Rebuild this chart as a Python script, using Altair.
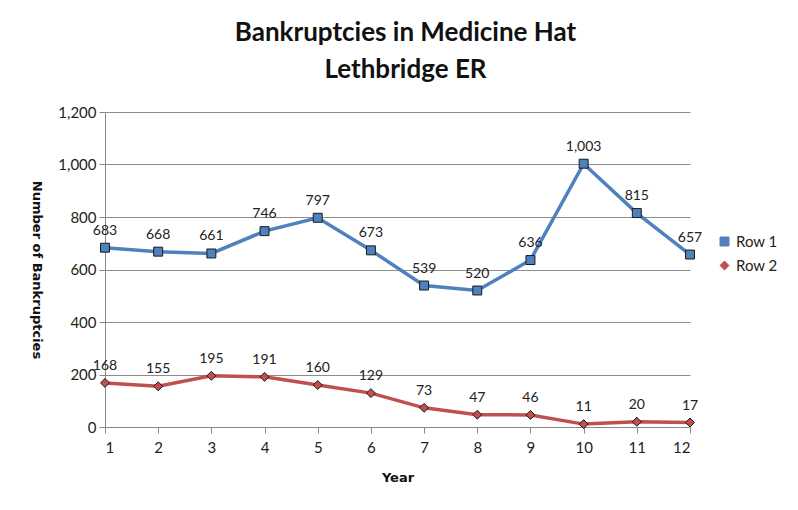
import altair as alt
import pandas as pd

years = list(range(1, 13))
row1 = [683, 668, 661, 746, 797, 673, 539, 520, 636, 1003, 815, 657]
row2 = [168, 155, 195, 191, 160, 129, 73, 47, 46, 11, 20, 17]
series_names = ["Row 1", "Row 2"]
colors = ["#4F81BD", "#C0504D"]
shapes = ["square", "diamond"]

df = pd.DataFrame(
    [{"Year": y, "Value": v, "Series": "Row 1"} for y, v in zip(years, row1)]
    + [{"Year": y, "Value": v, "Series": "Row 2"} for y, v in zip(years, row2)]
)

FONT = "Lato"
TFONT = "DejaVu Sans"

x = alt.X(
    "Year:Q",
    scale=alt.Scale(domain=[1, 12], nice=False, zero=False),
    axis=alt.Axis(
        title="Year", values=years, format="d", grid=False,
        titleFontWeight="bold", titleFontSize=13, titleFont=TFONT, titlePadding=16,
        labelFontSize=15, tickSize=6, domainColor="#888888", tickColor="#888888",
        labelColor="#222222", titleColor="#111111", labelPadding=7,
    ),
)
y = alt.Y(
    "Value:Q",
    scale=alt.Scale(domain=[0, 1200], nice=False),
    axis=alt.Axis(
        title="Number of Bankruptcies", values=list(range(0, 1201, 200)), format=",d",
        titleFontWeight="bold", titleFontSize=13, titleFont=TFONT, titlePadding=28,
        titleAngle=90,
        labelFontSize=15, tickSize=6, domainColor="#888888", tickColor="#888888",
        gridColor="#8C8C8C", gridWidth=1, labelColor="#222222", titleColor="#111111",
        labelPadding=3,
    ),
)

leg = alt.Legend(
    title=None, orient="none", legendX=612, legendY=122,
    labelFontSize=15, symbolSize=80, labelColor="#222222",
    rowPadding=8, symbolStrokeColor="#1a1a1a", symbolStrokeWidth=1,
)

cscale = alt.Scale(domain=series_names, range=colors)
sscale = alt.Scale(domain=series_names, range=shapes)

line_chart = alt.Chart(df).mark_line(
    strokeWidth=3.5,
    point=alt.OverlayMarkDef(filled=True, size=80, stroke="#1a1a1a", strokeWidth=1, opacity=1),
).encode(
    x=x, y=y,
    color=alt.Color("Series:N", scale=cscale, legend=leg),
    shape=alt.Shape("Series:N", scale=sscale, legend=leg),
)
labels = alt.Chart(df).mark_text(dy=-17, fontSize=14, color="#222222", font=FONT).encode(
    x=x, y=y,
    text=alt.Text("Value:Q", format=","),
)

chart = (
    alt.layer(line_chart, labels)
    .properties(
        width=585,
        height=315,
        title=alt.TitleParams(
            text=["Bankruptcies in Medicine Hat", "Lethbridge ER"],
            fontSize=26, font=FONT, fontWeight="bold", color="#111111",
            anchor="middle", offset=22, lineHeight=37, dx=8,
        ),
        autosize=alt.AutoSizeParams(type="none"),
        padding={"left": 97, "top": 104, "right": 100, "bottom": 70},
    )
    .configure(font=FONT)
    .configure_view(stroke=None)
)

chart.save("out.html", embed_options={"renderer": "svg", "actions": False})
